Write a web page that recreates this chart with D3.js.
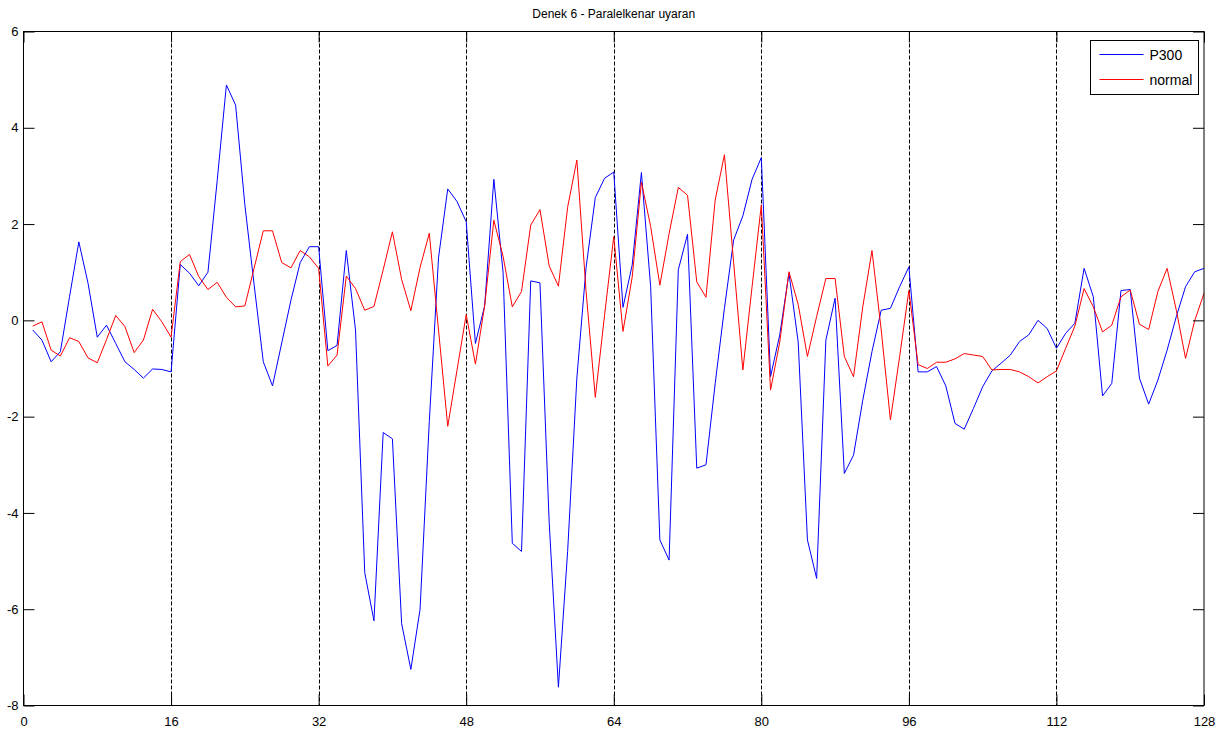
<!DOCTYPE html>
<html>
<head>
<meta charset="utf-8">
<script src="https://cdn.jsdelivr.net/npm/d3@7"></script>
<style>
  html, body { margin: 0; padding: 0; background: #ffffff; }
  svg { display: block; }
  text { font-family: "Liberation Sans", Arial, sans-serif; fill: #000; }
</style>
</head>
<body>
<svg id="chart" width="1232" height="733"></svg>
<script>
// ---- data ----
const title = "Denek 6 - Paralelkenar uyaran";
const seriesNames = ["P300", "normal"];
const seriesColors = ["#0000ff", "#ff0000"];
const xTicks = [0, 16, 32, 48, 64, 80, 96, 112, 128];
const yTicks = [-8, -6, -4, -2, 0, 2, 4, 6];
const gridX = [16, 32, 48, 64, 80, 96, 112];
const sampleIndex = d3.range(1, 129); // 1..128

const p300 = [
  -0.2, -0.41, -0.86, -0.65, 0.5, 1.63, 0.77, -0.35, -0.1, -0.48,
  -0.86, -1.02, -1.2, -1.01, -1.02, -1.07, 1.16, 0.98, 0.72, 1.0,
  2.9, 4.89, 4.47, 2.4, 0.75, -0.86, -1.36, -0.47, 0.42, 1.2,
  1.53, 1.53, -0.63, -0.52, 1.45, -0.2, -5.24, -6.24, -2.33, -2.46,
  -6.3, -7.25, -6.0, -2.1, 1.3, 2.73, 2.47, 2.05, -0.48, 0.3,
  2.93, 1.0, -4.63, -4.8, 0.82, 0.78, -4.2, -7.62, -4.8, -1.2,
  1.1, 2.55, 2.95, 3.08, 0.27, 1.15, 3.07, 0.7, -4.56, -4.98,
  1.05, 1.79, -3.07, -3.0, -1.31, 0.25, 1.67, 2.17, 2.93, 3.38,
  -1.17, -0.3, 0.98, -0.45, -4.56, -5.36, -0.41, 0.46, -3.18, -2.8,
  -1.66, -0.65, 0.21, 0.25, 0.7, 1.11, -1.07, -1.07, -0.96, -1.36,
  -2.14, -2.26, -1.83, -1.38, -1.05, -0.89, -0.72, -0.44, -0.3, 0.0,
  -0.17, -0.58, -0.27, -0.06, 1.08, 0.49, -1.57, -1.31, 0.62, 0.64,
  -1.2, -1.74, -1.24, -0.62, 0.08, 0.7, 1.01, 1.08
];
const normal = [
  -0.12, -0.03, -0.62, -0.74, -0.36, -0.44, -0.78, -0.88, -0.4, 0.1,
  -0.13, -0.67, -0.41, 0.23, -0.03, -0.35, 1.22, 1.37, 0.91, 0.64,
  0.79, 0.48, 0.28, 0.3, 1.08, 1.86, 1.86, 1.2, 1.09, 1.45,
  1.32, 1.08, -0.95, -0.72, 0.92, 0.66, 0.21, 0.29, 1.05, 1.84,
  0.85, 0.2, 1.1, 1.81, -0.2, -2.2, -1.04, 0.12, -0.91, 0.3,
  2.08, 1.33, 0.28, 0.6, 1.98, 2.3, 1.13, 0.71, 2.35, 3.33,
  0.6, -1.6, 0.1, 1.74, -0.23, 0.9, 2.87, 1.95, 0.73, 1.8,
  2.76, 2.6, 0.8, 0.48, 2.5, 3.44, 1.2, -1.03, 0.7, 2.4,
  -1.45, -0.45, 1.01, 0.33, -0.75, 0.08, 0.87, 0.87, -0.75, -1.17,
  0.28, 1.45, -0.2, -2.07, -0.75, 0.62, -0.92, -1.0, -0.87, -0.87,
  -0.8, -0.69, -0.72, -0.75, -1.03, -1.02, -1.02, -1.07, -1.17, -1.3,
  -1.17, -1.05, -0.58, -0.12, 0.66, 0.28, -0.24, -0.1, 0.49, 0.63,
  -0.08, -0.19, 0.6, 1.08, 0.21, -0.79, 0.0, 0.56
];

// ---- layout ----
const L = 23.5, R = 1204, T = 31.5, B = 705.5;
const svg = d3.select("#chart");
const x = d3.scaleLinear().domain([0, 128]).range([L, R]);
const y = d3.scaleLinear().domain([-8, 6]).range([B, T]);

// grid (vertical dashed lines)
svg.append("g").selectAll("line").data(gridX).join("line")
  .attr("x1", d => Math.round(x(d)) + 0.5).attr("x2", d => Math.round(x(d)) + 0.5)
  .attr("y1", T).attr("y2", B)
  .attr("stroke", "#000").attr("stroke-width", 1)
  .attr("stroke-dasharray", "4,2");

// series lines
const series = [p300, normal];
const line = d3.line().x((d, i) => x(sampleIndex[i])).y(d => y(d));
series.forEach((s, k) => {
  svg.append("path").datum(s)
    .attr("fill", "none")
    .attr("stroke", seriesColors[k])
    .attr("stroke-width", 1)
    .attr("d", line);
});

// axes box
svg.append("rect").attr("x", L).attr("y", T).attr("width", R - L).attr("height", B - T)
  .attr("fill", "none").attr("stroke", "#000").attr("stroke-width", 1);

const tickLen = 11;
const axL = svg.append("g").attr("transform", `translate(${L},0)`)
  .call(d3.axisLeft(y).tickValues(yTicks).tickSizeInner(-tickLen).tickSizeOuter(0).tickPadding(5).tickFormat(d3.format("d")));
const axR = svg.append("g").attr("transform", `translate(${R},0)`)
  .call(d3.axisRight(y).tickValues(yTicks).tickSizeInner(-tickLen).tickSizeOuter(0).tickFormat(""));
const axB = svg.append("g").attr("transform", `translate(0,${B})`)
  .call(d3.axisBottom(x).tickValues(xTicks).tickSizeInner(-tickLen).tickSizeOuter(0).tickPadding(11).tickFormat(d3.format("d")));
const axT = svg.append("g").attr("transform", `translate(0,${T})`)
  .call(d3.axisTop(x).tickValues(xTicks).tickSizeInner(-tickLen).tickSizeOuter(0).tickFormat(""));

[axL, axR, axB, axT].forEach(g => {
  g.select(".domain").remove();
  g.selectAll("line").attr("stroke", "#000");
  g.selectAll("text").attr("font-family", "'Liberation Sans', Arial, sans-serif")
    .attr("font-size", 13).attr("fill", "#000");
});
axL.selectAll("text").text(d => d < 0 ? "-" + Math.abs(d) : d);

// title
svg.append("text").attr("x", (L + R) / 2).attr("y", 18)
  .attr("text-anchor", "middle").attr("font-size", 12).text(title);

// legend
const lg = svg.append("g");
const lgX = 1090.5, lgY = 40.5, lgW = 108, lgH = 54;
lg.append("rect").attr("x", lgX).attr("y", lgY).attr("width", lgW).attr("height", lgH)
  .attr("fill", "#fff").attr("stroke", "#000").attr("stroke-width", 1);
seriesNames.forEach((n, k) => {
  const yy = lgY + 14 + k * 25;
  lg.append("line").attr("x1", lgX + 9).attr("x2", lgX + 53).attr("y1", yy).attr("y2", yy)
    .attr("stroke", seriesColors[k]).attr("stroke-width", 1);
  lg.append("text").attr("x", lgX + 59).attr("y", yy + 5).attr("font-size", 14).text(n);
});
</script>
</body>
</html>
